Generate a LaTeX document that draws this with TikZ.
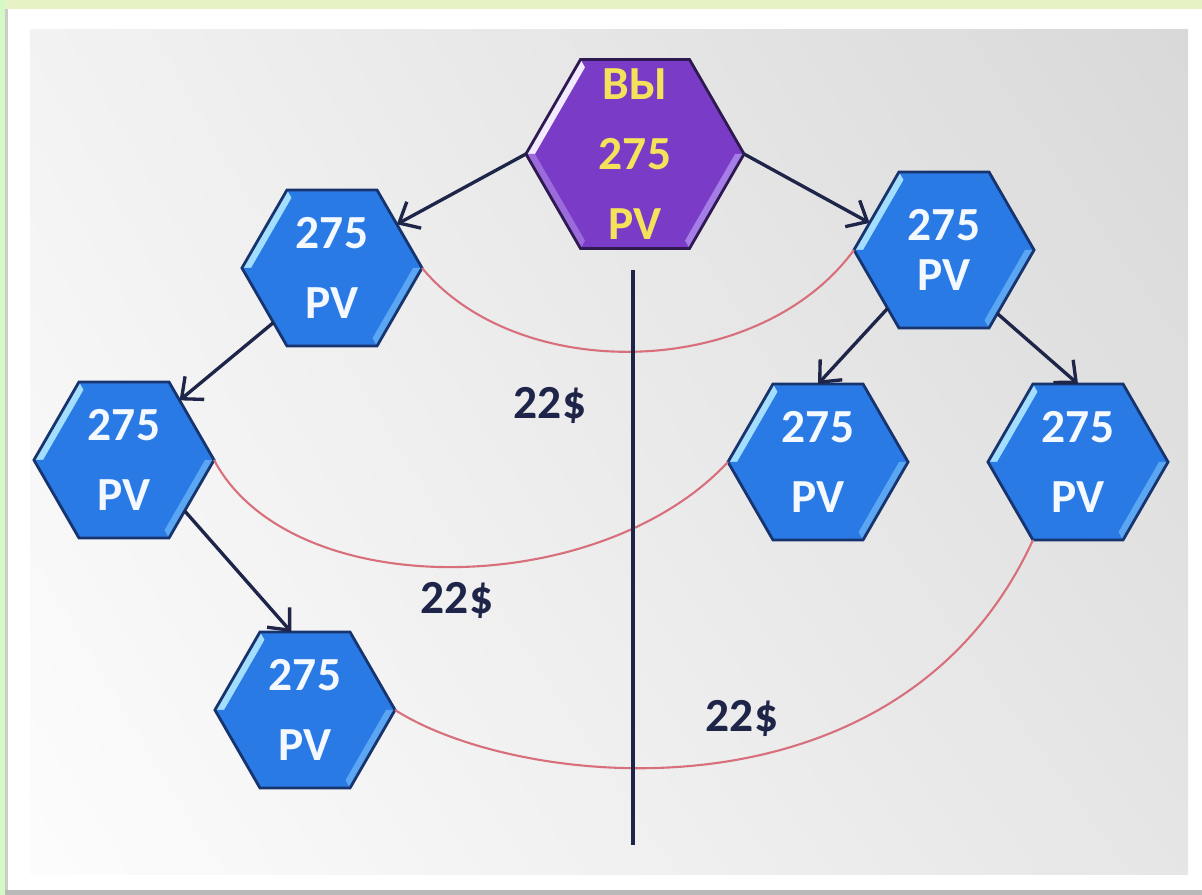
\documentclass[tikz,border=0pt]{standalone}
\usepackage{fontspec}
\setmainfont{Carlito}
\usepackage{tikz}
\usetikzlibrary{shapes,arrows,positioning,calc,arrows.meta,shadings}

\definecolor{blufill}{HTML}{2A7AE6}
\definecolor{bluhi}{HTML}{A4DEFF}
\definecolor{blulo}{HTML}{2A7AE6}
\definecolor{blurim}{HTML}{5AA6F2}
\definecolor{bluedge}{HTML}{17346E}
\definecolor{blutext}{HTML}{F4F8FF}
\definecolor{purfill}{HTML}{7A3CC6}
\definecolor{purhi}{HTML}{F2EAFF}
\definecolor{purlo}{HTML}{9B6BDC}
\definecolor{purrim}{HTML}{A47EE6}
\definecolor{puredge}{HTML}{2E1A50}
\definecolor{purtext}{HTML}{F5E25A}
\definecolor{navy}{HTML}{1E2548}
\definecolor{linkred}{HTML}{D8707C}
\definecolor{framegreen}{HTML}{E6F2C4}

\tikzset{
  hexbox/.style={regular polygon, regular polygon sides=6, inner sep=0pt, outer sep=0pt, line width=0.8pt},
  hextext/.style={align=center, font=\fontsize{13.5}{20}\selectfont\bfseries},
  tree/.style={navy, line width=0.95pt, -{Straight Barb[length=1.7mm,width=3mm]}},
  link/.style={linkred, line width=0.6pt},
  bonus/.style={navy, font=\fontsize{13.5}{15}\selectfont\bfseries}
}

% #1 colours, #2 half width (cm), #3 name, #4 centre, #5 text
\newcommand{\hexa}[5]{%
  \pgfmathsetmacro{\hexin}{#2-0.09}
  \begin{scope}[shift={#4}]
    \fill[#1fill] (0:#2cm) -- (60:#2cm) -- (120:#2cm) -- (180:#2cm) -- (240:#2cm) -- (300:#2cm) -- cycle;
    \fill[#1hi] (120:#2cm) -- (180:#2cm) -- (180:\hexin cm) -- (120:\hexin cm) -- cycle;
    \fill[#1lo] (180:#2cm) -- (240:#2cm) -- (240:\hexin cm) -- (180:\hexin cm) -- cycle;
    \fill[#1rim] (0:#2cm) -- (300:#2cm) -- (300:\hexin cm) -- (0:\hexin cm) -- cycle;
  \end{scope}
  \node[hexbox, draw=#1edge, minimum size=2*#2cm] (#3) at #4 {};
  \node[hextext, text=#1text] (#3-t) at #4 {#5};
}

\begin{document}
\begin{tikzpicture}[x=0.01cm, y=-0.01cm]
    \useasboundingbox (0,0) rectangle (1202,895);

    % Frame
    \fill[white] (0,0) rectangle (1202,895);
    \fill[framegreen] (0,0) rectangle (1202,9);
    \fill[framegreen!80!green!60!white] (0,0) rectangle (5,895);
    \fill[gray!40] (5,9) rectangle (8,895);
    \fill[gray!55] (5,890) rectangle (1202,895);
    \shade[upper left=black!5, upper right=black!15, lower left=black!1, lower right=black!10]
        (30,30) rectangle (1188,875);

    % Hexagons
    \hexa{pur}{1.09}{top}{(635,154)}{ВЫ\\275\\PV}
    \hexa{blu}{0.9}{l1}{(332,268)}{275\\PV}
    \hexa{blu}{0.9}{r1}{(944,250)}{275\\[-6pt]PV}
    \hexa{blu}{0.9}{l2}{(124,460)}{275\\PV}
    \hexa{blu}{0.9}{r2}{(818,462)}{275\\PV}
    \hexa{blu}{0.9}{r3}{(1078,462)}{275\\PV}
    \hexa{blu}{0.9}{l3}{(305,710)}{275\\PV}

    % Pairs
    \draw[link] (l1.east) .. controls +(97,117) and +(-95,130) .. (r1.west);
    \draw[link] (l2.east) .. controls +(77,145) and +(-128,138) .. (r2.west);
    \draw[link] (l3.east) .. controls +(125,80) and +(-133,290) .. (r3.240);

    % Divider
    \coordinate (axtop) at (633,270);
    \coordinate (axbot) at (633,845);
    \draw[navy, line width=1.3pt] (axtop) -- (axbot);

    % Sponsor lines
    \draw[tree] (top.west) -- (l1.34);
    \draw[tree] (top.east) -- (r1.160);
    \draw[tree] (l1.223) -- (l2.47);
    \draw[tree] (l2.320) -- (l3.100);
    \draw[tree] (r1.226) -- (r2.north);
    \draw[tree] (r1.310) -- (r3.north);

    % Bonuses
    \node[bonus] (b1) at (550,405) {22\$};
    \node[bonus] (b2) at (457,600) {22\$};
    \node[bonus] (b3) at (742,718) {22\$};
\end{tikzpicture}
\end{document}
